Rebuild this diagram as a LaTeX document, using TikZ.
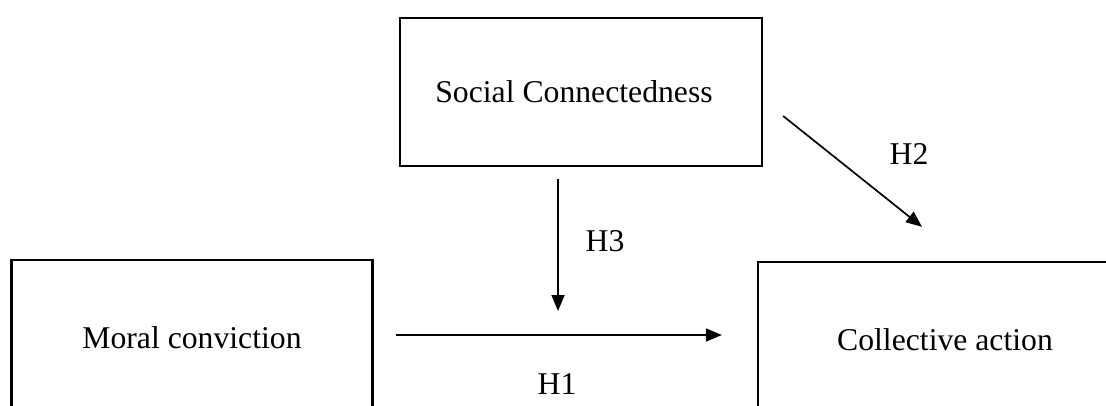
\documentclass[tikz,border=0pt]{standalone}
\usepackage{fontspec}
\setmainfont{Liberation Serif}
\usetikzlibrary{arrows.meta}
\begin{document}
\begin{tikzpicture}[x=1pt,y=-1pt,
  box/.style={draw=black,line width=2.3pt,rectangle,inner sep=0pt,font=\fontsize{31.7}{36}\selectfont},
  arr/.style={line width=1.7pt,-{Triangle[length=16pt,width=13pt]}},
  lab/.style={font=\fontsize{31.7}{36}\selectfont,inner sep=0pt}]
\useasboundingbox (0,0) rectangle (1106,406);
\clip (0,0) rectangle (1106,406);
\fill[white] (0,0) rectangle (1106,406);
\node[box,minimum width=362pt,minimum height=148pt] (sc) at (581,92) {\hspace*{-14pt}\raisebox{-4pt}{Social Connectedness}};
\node[box,minimum width=361pt,minimum height=156pt] (mc) at (192,338) {Moral conviction};
\node[box,minimum width=374pt,minimum height=156pt] (ca) at (945,340) {Collective action};
\coordinate (h3e) at (558,311);
\coordinate (h2e) at ([shift={(-23,-34)}]ca.north);
\draw[arr] ([shift={(-23,12)}]sc.south) -- (h3e);
\draw[arr] ([shift={(22,-3)}]mc.east) -- ([shift={(-35,-5)}]ca.west);
\draw[arr] ([shift={(20,24)}]sc.east) -- (h2e);
\node[lab] (l3) at (605,241) {H3};
\node[lab] (l1) at (557,384) {H1};
\node[lab] (l2) at (909,154) {H2};
\end{tikzpicture}
\end{document}
